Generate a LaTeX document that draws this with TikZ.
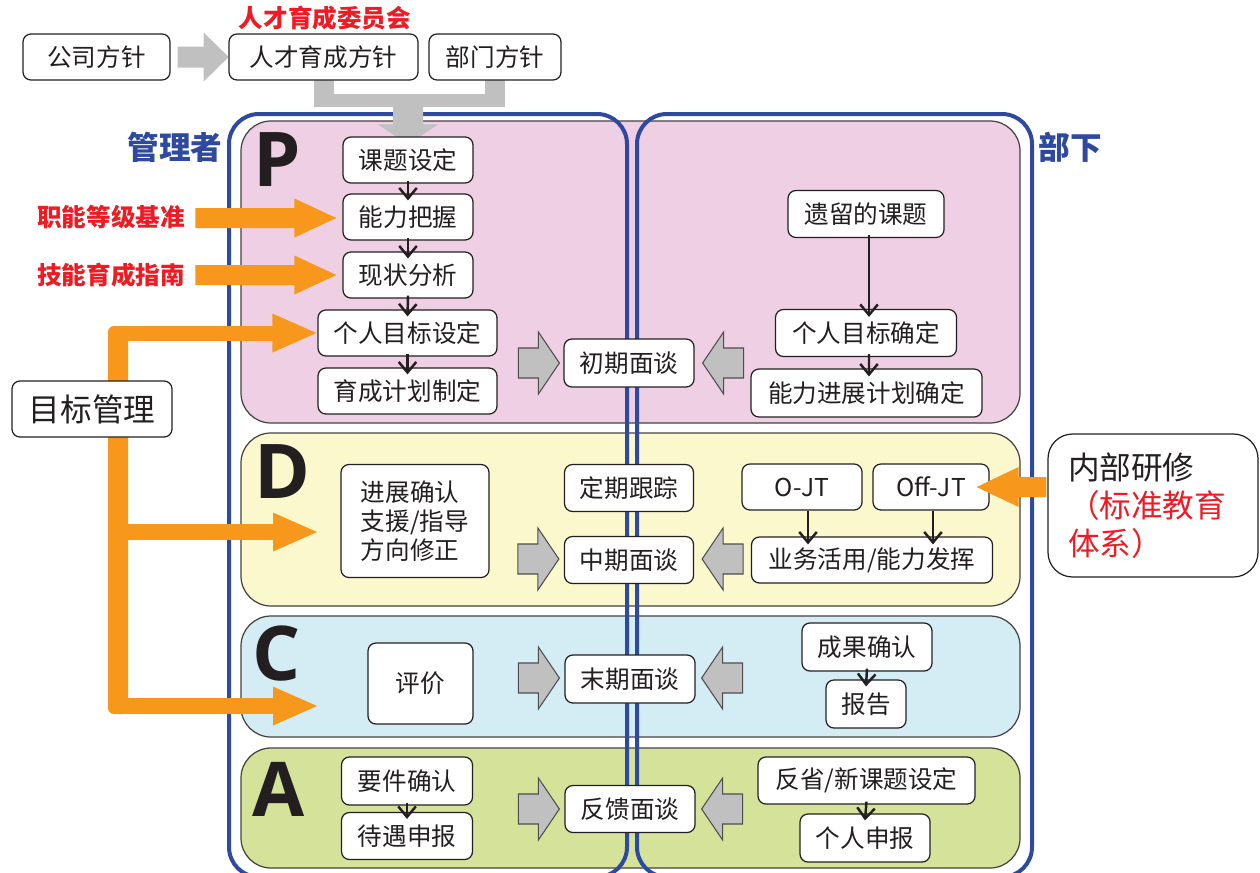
\documentclass[tikz,border=0pt]{standalone}
\usepackage{fontspec}
\setmainfont{Noto Sans CJK SC}
\newfontfamily\letterfont{Open Sans}
\usetikzlibrary{arrows.meta,calc}
\definecolor{ink}{RGB}{35,31,32}
\definecolor{pblue}{RGB}{46,74,158}
\definecolor{pred}{RGB}{237,28,36}
\definecolor{porange}{RGB}{247,152,29}
\definecolor{pgrey}{RGB}{192,192,192}
\definecolor{bandP}{RGB}{239,207,227}
\definecolor{bandD}{RGB}{252,248,206}
\definecolor{bandC}{RGB}{212,236,243}
\definecolor{bandA}{RGB}{213,226,154}
\pgfdeclarelayer{bands}\pgfdeclarelayer{blue}\pgfdeclarelayer{conn}
\pgfsetlayers{bands,blue,conn,main}
\tikzset{
 box/.style={draw=ink, fill=white, line width=0.7pt, rounded corners=4.5pt, inner sep=0pt, align=center, font=\fontsize{14}{16.5}\selectfont, text=ink},
 band/.style={draw=ink!85, line width=0.7pt, rounded corners=0.6cm},
 lane/.style={draw=pblue, line width=0.08cm, rounded corners=0.6cm},
 arr/.style={draw=ink, line width=1.4pt, -{Straight Barb[length=6pt,width=10pt]}},
 garrow/.style={fill=pgrey, draw=ink!80, line width=0.6pt},
 gtop/.style={fill=pgrey},
 orarrow/.style={fill=porange},
 letter/.style={font=\letterfont\bfseries\fontsize{43}{43}\selectfont, text=ink, inner sep=0pt, anchor=base},
 redlabel/.style={font=\bfseries\fontsize{14}{17}\selectfont, text=pred, inner sep=0pt},
 bluelabel/.style={font=\bfseries\fontsize{18}{21}\selectfont, text=pblue, inner sep=0pt},
}
\newcommand\bx[6]{\node[box,minimum width=#4*0.02cm,minimum height=#5*0.02cm] (#1) at (#2,#3) {#6};}
\newcommand\grR[1]{\draw[garrow] #1 -- ++(-21,-31) -- ++(0,16) -- ++(-20,0) -- ++(0,30) -- ++(20,0) -- ++(0,16) -- cycle;}
\newcommand\grL[1]{\draw[garrow] #1 -- ++(21,-31) -- ++(0,16) -- ++(20,0) -- ++(0,30) -- ++(-20,0) -- ++(0,16) -- cycle;}
\newcommand\orR[2]{\fill[orarrow] #1 -- ++(-42,-19.5) -- ++(0,9.5) -- ++(-#2,0) -- ++(0,20) -- ++(#2,0) -- ++(0,9.5) -- cycle;}
\begin{document}
\begin{tikzpicture}[x=0.02cm,y=-0.02cm]
\useasboundingbox (0,0) rectangle (1260,872);

% bands
\begin{pgfonlayer}{bands}
\draw[band, fill=bandP] (241,121) rectangle (1020,423);
\draw[band, fill=bandD] (241,433) rectangle (1020,606);
\draw[band, fill=bandC] (241,616) rectangle (1020,737);
\draw[band, fill=bandA] (241,748) rectangle (1020,868);
\end{pgfonlayer}

% blue lanes
\begin{pgfonlayer}{blue}
\begin{scope}
\clip (0,0) rectangle (1260,872);
\draw[lane] (229,114) rectangle (627,877);
\draw[lane] (637,114) rectangle (1032,877);
\end{scope}
\end{pgfonlayer}

% labels
\node[bluelabel] (mgr) at (175,147) {管理者};
\node[bluelabel] (sub) at (1070,147) {部下};
\node[letter] (LP) at (277,186) {P};
\node[letter] (LD) at (282,498) {D};
\node[letter] (LC) at (277,680) {C};
\node[letter] (LA) at (279,816) {A};

% top row
\bx{gongsi}{96.5}{57}{147}{46}{公司方针}
\bx{rencai}{323.5}{57}{189}{46}{人才育成方针}
\bx{bumen}{495}{57}{132}{46}{部门方针}
\node[redlabel] (wyh) at (325,18) {人才育成委员会};

% P band
\bx{keti}{408}{160}{130}{46}{课题设定}
\bx{nengli}{408}{217}{130}{46}{能力把握}
\bx{xianzhuang}{408}{275}{130}{46}{现状分析}
\bx{mubiao}{407.5}{333}{179}{46}{个人目标设定}
\bx{jihua}{407.5}{391}{179}{46}{育成计划制定}
\bx{chuqi}{629}{363}{130}{48}{初期面谈}
\bx{yiliu}{866}{214}{156}{47}{遗留的课题}
\bx{queding}{866}{333}{181}{47}{个人目标确定}
\bx{jinzhan}{866.5}{393}{231}{48}{能力进展计划确定}

% D band
\node[box,align=left,minimum width=148*0.02cm,minimum height=113*0.02cm] (zhidao) at (415,521) {进展确认\\支援/指导\\方向修正};
\bx{dingqi}{629}{488}{129}{47}{定期跟踪}
\bx{zhongqi}{629}{560}{129}{47}{中期面谈}
\bx{ojt}{802}{487}{120}{46}{O-JT}
\bx{offjt}{931}{487}{116}{46}{Off-JT}
\bx{yewu}{872}{560}{241}{46}{业务活用/能力发挥}
\node[box,rounded corners=14pt,align=left,text width=3.4cm,minimum width=210*0.02cm,minimum height=143*0.02cm,font=\fontsize{18}{21.5}\selectfont] (neibu) at (1153,505.5) {内部研修\\\textcolor{pred}{（标准教育}\\\textcolor{pred}{体系）}};

% C band
\bx{pingjia}{420.5}{683.5}{105}{81}{评价}
\bx{moqi}{630}{679}{130}{48}{末期面谈}
\bx{chengguo}{867}{647}{130}{48}{成果确认}
\bx{baogao}{866}{704}{80}{48}{报告}

% A band
\bx{yaojian}{407}{781}{131}{48}{要件确认}
\bx{daiyu}{407}{836}{131}{47}{待遇申报}
\bx{fankui}{630}{809}{130}{47}{反馈面谈}
\bx{fanxing}{866.5}{780.5}{217}{47}{反省/新课题设定}
\bx{shenbao}{865}{838}{130}{48}{个人申报}

% left side
\node[box,minimum width=160*0.02cm,minimum height=56*0.02cm,font=\fontsize{18}{21}\selectfont] (mbgl) at (92,409) {目标管理};
\node[redlabel] (zhineng) at (111,217.5) {职能等级基准};
\node[redlabel] (jineng) at (111,275) {技能育成指南};

% grey top connectors and target-management arrows (behind nodes)
\begin{pgfonlayer}{conn}
\fill[gtop] ($(gongsi.east)+(7,-10.5)$) -- ++(26,0) -- ++(0,-14) -- ++(25,24.5) -- ++(-25,24.5) -- ++(0,-14) -- ++(-26,0) -- cycle;
\fill[gtop] ($(rencai.south)+(-10,-2)$) rectangle ($(rencai.south)+(10,26)$);
\fill[gtop] ($(bumen.south)+(-10,-2)$) rectangle ($(bumen.south)+(10,26)$);
\fill[gtop] ($(rencai.south)+(-10,13)$) rectangle ($(bumen.south)+(10,26)$);
\fill[gtop] ($(keti.north)+(-15,-32)$) -- ++(30,0) -- ++(0,20) -- ++(15,0) -- ++(-30,20) -- ++(-30,-20) -- ++(15,0) -- cycle;
\coordinate (tD) at (317,532);
\coordinate (tC) at (317,706);
\fill[orarrow, rounded corners=0.12cm] (108,326) rectangle (128,714);
\fill[orarrow] (118,326) rectangle ($(mubiao.west)+(-44,8)$);
\fill[orarrow] ($(mubiao.west)+(-1,0)$) -- ++(-44,-19.5) -- ++(0,39) -- cycle;
\fill[orarrow] (118,524) rectangle ($(tD)+(-44,8)$);
\fill[orarrow] (tD) -- ++(-44,-19.5) -- ++(0,39) -- cycle;
\fill[orarrow] (118,698) rectangle ($(tC)+(-44,8)$);
\fill[orarrow] (tC) -- ++(-44,-19.5) -- ++(0,39) -- cycle;
\orR{($(nengli.west)+(-6,1)$)}{99}
\orR{($(xianzhuang.west)+(-6,0)$)}{99}
\end{pgfonlayer}

% black arrows
\draw[arr] ($(keti.south)+(0,-3)$) -- ($(nengli.north)+(0,7)$);
\draw[arr] ($(nengli.south)+(0,-3)$) -- ($(xianzhuang.north)+(0,7)$);
\draw[arr] ($(xianzhuang.south)+(0,-3)$) -- ($(mubiao.north)+(0,7)$);
\draw[arr] ($(mubiao.south)+(0,-3)$) -- ($(jihua.north)+(0,7)$);
\draw[arr] ($(yiliu.south)+(3,-3)$) -- ($(queding.north)+(3,8)$);
\draw[arr] ($(queding.south)+(3,-3)$) -- ($(jinzhan.north)+(2.5,8)$);
\draw[arr] ($(ojt.south)+(6,0)$) -- ($(ojt.south |- yewu.north)+(6,8)$);
\draw[arr] ($(offjt.south)+(2,0)$) -- ($(offjt.south |- yewu.north)+(2,8)$);
\draw[arr] ($(chengguo.south)+(0,-3)$) -- ($(baogao.north)+(0,7)$);
\draw[arr] ($(yaojian.south)+(0,-3)$) -- ($(daiyu.north)+(0,7)$);
\draw[arr] ($(fanxing.south)+(0,-3)$) -- ($(shenbao.north)+(0,7)$);

% grey block arrows
\grR{($(chuqi.west)+(-4,0)$)}
\grL{($(chuqi.east)+(8,0)$)}
\grR{($(zhongqi.west)+(-5,-1)$)}
\grL{($(zhongqi.east)+(8,-1)$)}
\grR{($(moqi.west)+(-5,-1)$)}
\grL{($(moqi.east)+(6,-1)$)}
\grR{($(fankui.west)+(-5,0)$)}
\grL{($(fankui.east)+(6,0)$)}

% orange arrow from internal training
\coordinate (tO) at ($(offjt.east)+(-13,0)$);
\fill[orarrow] (tO) -- ++(42,-20) -- ++(0,10) -- ($(neibu.west |- tO)+(-1,-10)$) -- ($(neibu.west |- tO)+(-1,10)$) -- ($(tO)+(42,10)$) -- ++(0,10) -- cycle;
\end{tikzpicture}
\end{document}
